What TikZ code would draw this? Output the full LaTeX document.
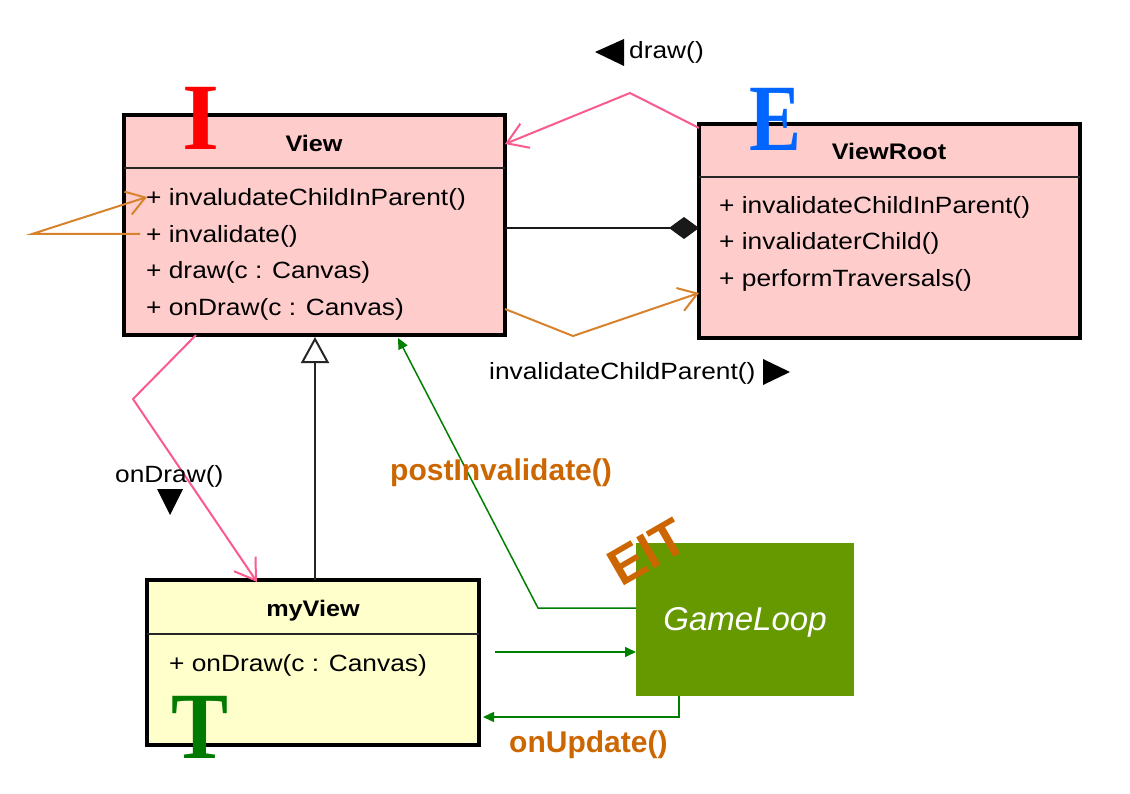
\documentclass[tikz,border=0pt]{standalone}
\usepackage{fontspec}
\setmainfont{Liberation Sans}
\newfontfamily\umlfont[FakeStretch=1.12]{Liberation Sans}
\newfontfamily\letterfont{Liberation Serif}
\usetikzlibrary{arrows.meta}
\definecolor{pinkln}{RGB}{250,90,140}
\definecolor{orangeln}{RGB}{215,130,45}
\definecolor{orangetx}{RGB}{204,102,0}
\definecolor{greenln}{RGB}{0,128,0}
\definecolor{gamegreen}{RGB}{102,153,0}
\definecolor{viewpink}{RGB}{255,204,204}
\definecolor{viewyellow}{RGB}{255,255,204}
\definecolor{letterblue}{RGB}{0,102,255}
\definecolor{letterred}{RGB}{255,0,0}
\definecolor{lettergreen}{RGB}{0,122,0}
\begin{document}
\begin{tikzpicture}[x=1pt,y=-1pt,
  classbox/.style={draw=black, line width=3.5pt, inner sep=0pt, outer sep=0pt, anchor=north west},
  sepline/.style={draw=black!85, line width=1.5pt},
  classtitle/.style={font=\umlfont\bfseries\fontsize{22.5}{27}\selectfont, anchor=base, inner sep=0pt},
  methodtext/.style={font=\umlfont\fontsize{23.5}{28}\selectfont, anchor=base west, inner sep=0pt},
  msglabel/.style={font=\umlfont\fontsize{23.5}{28}\selectfont, anchor=west, inner sep=0pt},
  orangelabel/.style={font=\bfseries\fontsize{30}{36}\selectfont, text=orangetx, anchor=west, inner sep=0pt},
  bigletter/.style={font=\letterfont\bfseries\fontsize{95}{95}\selectfont, anchor=base, inner sep=0pt},
  pinkarrow/.style={draw=pinkln, line width=2pt, -{Straight Barb[length=20pt,width=26pt,line width=2pt]}},
  orangearrow/.style={draw=orangeln, line width=2pt, -{Straight Barb[length=18pt,width=24pt,line width=2pt]}},
  greenarrow/.style={draw=greenln, line width=1.5pt, -{Triangle[length=11pt,width=10pt]}},
  genarrow/.style={draw=black!85, line width=2pt, -{Triangle[open,length=26pt,width=28pt,fill=white]}},
  comparrow/.style={draw=black!90, line width=2pt, -{Diamond[length=30pt,width=22pt]}},
  dirmark/.style={fill=black}
]
\fill[white] (0,0) rectangle (1130,794);
\useasboundingbox (0,0) rectangle (1130,794);

% ---- class boxes
\node[classbox, fill=viewpink, minimum width=381pt, minimum height=220pt] (view) at (124,115) {};
\node[classbox, fill=viewpink, minimum width=381pt, minimum height=214pt] (viewroot) at (699,124) {};
\node[classbox, fill=viewyellow, minimum width=332pt, minimum height=165pt] (myview) at (147,580) {};
\node[fill=gamegreen, inner sep=0pt, outer sep=0pt, anchor=north west, minimum width=218pt, minimum height=153pt] (gameloop) at (636,543) {};

% separators
\draw[sepline] (view.west |- 0,168) -- (view.east |- 0,168);
\draw[sepline] (viewroot.west |- 0,177) -- (viewroot.east |- 0,177);
\draw[sepline] (myview.west |- 0,634) -- (myview.east |- 0,634);

% titles
\node[classtitle] (viewtitle) at (314,152) {View};
\node[classtitle] (viewroottitle) at (889,160) {ViewRoot};
\node[classtitle] (myviewtitle) at (313,616) {myView};

% methods
\node[methodtext] (vm1) at (146,206) {+ invaludateChildInParent()};
\node[methodtext] (vm2) at (146,243) {+ invalidate()};
\node[methodtext] (vm3) at (146,279) {+ draw(c : Canvas)};
\node[methodtext] (vm4) at (146,316) {+ onDraw(c : Canvas)};
\node[methodtext] (rm1) at (719,214) {+ invalidateChildInParent()};
\node[methodtext] (rm2) at (719,250) {+ invalidaterChild()};
\node[methodtext] (rm3) at (719,287) {+ performTraversals()};
\node[methodtext] (mm1) at (169,671) {+ onDraw(c : Canvas)};

% GameLoop text
\node[font=\itshape\fontsize{33}{40}\selectfont, text=white, inner sep=0pt] (gltext) at (745,622) {GameLoop};

% ---- connectors
% self call into View
\coordinate (selfstart) at (140,234);
\coordinate (selfbend) at (32,234);
\coordinate (selfend) at (147,197);
\draw[orangearrow] (selfstart) -- (selfbend) -- (selfend);

% draw() from ViewRoot to View
\coordinate (drawbend) at (630,93);
\draw[pinkarrow] (viewroot.west |- 0,128) -- (drawbend) -- (view.east |- 0,144);

% composition
\draw[comparrow] (view.east |- 0,228) -- (viewroot.west |- 0,228);

% invalidateChildParent from View to ViewRoot
\coordinate (invbend) at (573,336);
\draw[orangearrow] (view.east |- 0,309) -- (invbend) -- (viewroot.west |- 0,293);

% onDraw from View to myView
\coordinate (ondrawbend) at (133,399);
\draw[pinkarrow] (view.south -| 196,0) -- (ondrawbend) -- (257,582);

% generalization
\draw[genarrow] (myview.north -| 315,0) -- (315,337);

% postInvalidate from GameLoop to View
\coordinate (postbend) at (538,608);
\draw[greenarrow] (gameloop.west |- 0,608) -- (postbend) -- (398,338);

% myView to GameLoop
\coordinate (mvout) at (495,652);
\draw[greenarrow] (mvout) -- (gameloop.west |- 0,652);

% onUpdate from GameLoop to myView
\coordinate (updbend) at (679,717);
\draw[greenarrow] (gameloop.south -| 679,0) -- (updbend) -- (483,717);

% ---- message labels
\fill[dirmark] (595,52) -- (624,39) -- (624,66) -- cycle;
\node[msglabel] (drawlbl) at (629,52) {draw()};
\node[msglabel] (invlbl) at (489,373) {invalidateChildParent()};
\fill[dirmark] (763,359) -- (790,372) -- (763,385) -- cycle;
\node[msglabel] (ondrawlbl) at (115,476) {onDraw()};
\fill[dirmark] (157,489) -- (183,489) -- (170,515) -- cycle;
\node[orangelabel] (postlbl) at (390,473) {postInvalidate()};
\node[orangelabel] (updlbl) at (509,745) {onUpdate()};

% ---- big letters
\node[bigletter, text=letterred] (letI) at (201,150) {I};
\node[bigletter, text=letterblue, xscale=0.82] (letE) at (775,151) {E};
\node[bigletter, text=lettergreen, xscale=0.9] (letT) at (200,758) {T};
\node[font=\bfseries\fontsize{52}{52}\selectfont, text=orangetx, rotate=30, anchor=base west, inner sep=0pt] (eit) at (621,588) {EIT};
\end{tikzpicture}
\end{document}
